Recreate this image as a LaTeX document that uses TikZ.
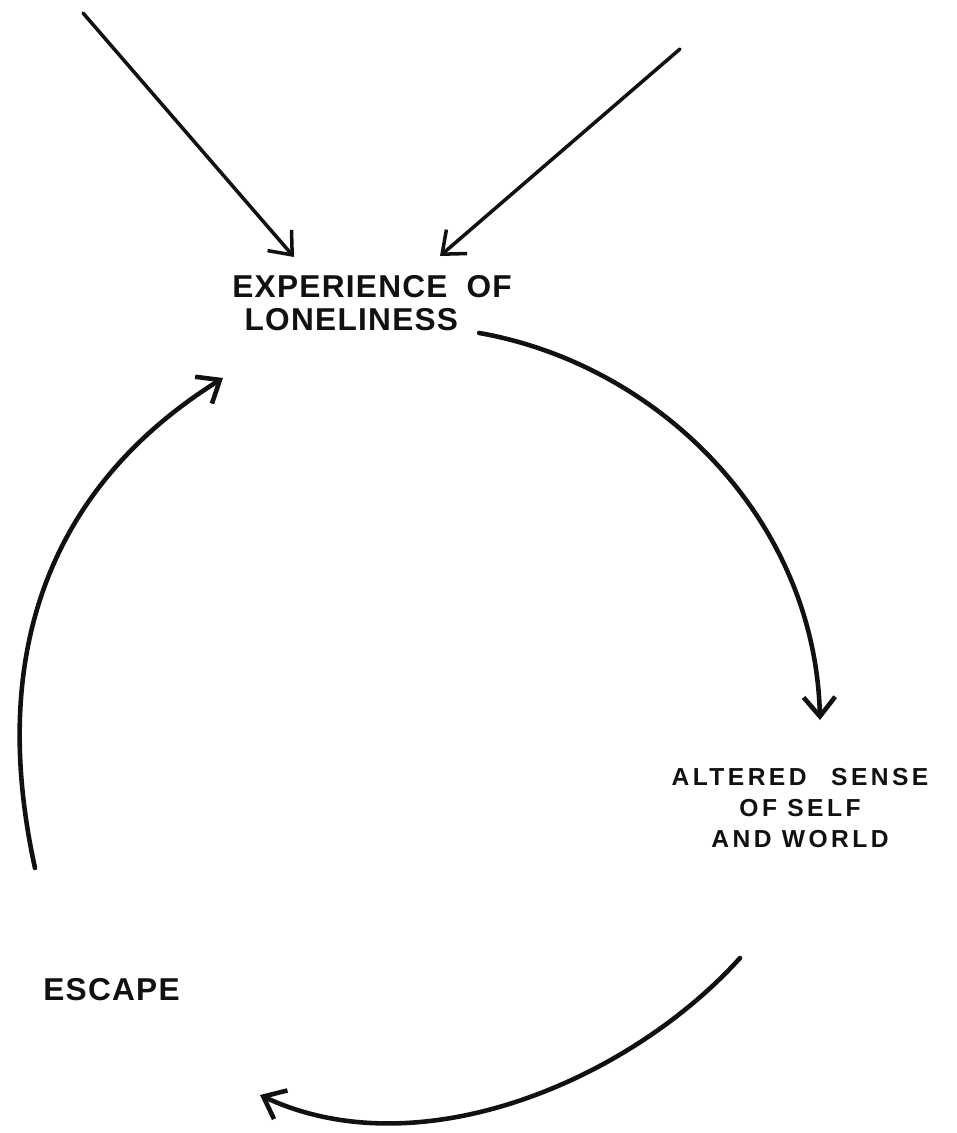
\documentclass[tikz,border=0pt]{standalone}
\usepackage{fontspec}
\usetikzlibrary{arrows.meta,calc,positioning}
\newfontfamily\hand[LetterSpace=4]{Liberation Sans}
\newfontfamily\handw[LetterSpace=14]{Liberation Sans}
\definecolor{inkC}{HTML}{111111}
\tikzset{
  lbl/.style={inner sep=0pt, text=inkC},
  bigl/.style={lbl, font=\hand\bfseries\fontsize{18}{18.7}\selectfont},
  altl/.style={lbl, font=\handw\bfseries\fontsize{14}{17.6}\selectfont},
  arr/.style={-{Straight Barb[length=11pt,width=18pt]}, draw=inkC, line width=2.6pt, line cap=round},
  thinarr/.style={arr, line width=2pt},
}

\begin{document}
\begin{tikzpicture}[x=0.02cm, y=-0.02cm]
\useasboundingbox (0,0) rectangle (957,1133);
\node[bigl, anchor=north west, align=left] (exp) at (232,275) {EXPERIENCE\hspace{0.6em}OF\\\hspace*{7pt}LONELINESS};
\node[altl, anchor=north, align=center] (alt) at (800,768) {ALTERED\hspace{1em}SENSE\\OF SELF\\AND WORLD};
\node[bigl, anchor=north west] (esc) at (43,978) {ESCAPE};
\coordinate (in1) at (83,13);
\coordinate (in2) at (680,49);
\coordinate (altin) at (820,720);
\coordinate (altout) at (740,958);
\coordinate (escin) at (260,1095);
\coordinate (escout) at (35,868);
\coordinate (expin) at (223,378);
\draw[thinarr] (in1) -- ($(exp.north west)+(62,-18)$);
\draw[thinarr] (in2) -- ($(exp.north west)+(208,-19)$);
\draw[arr] ($(exp.south east)+(-33,2)$) .. controls (660,365) and (815,520) .. (altin);
\draw[arr] (altout) .. controls (630,1080) and (420,1170) .. (escin);
\draw[arr] (escout) .. controls (-15,640) and (60,480) .. (expin);
\end{tikzpicture}
\end{document}
